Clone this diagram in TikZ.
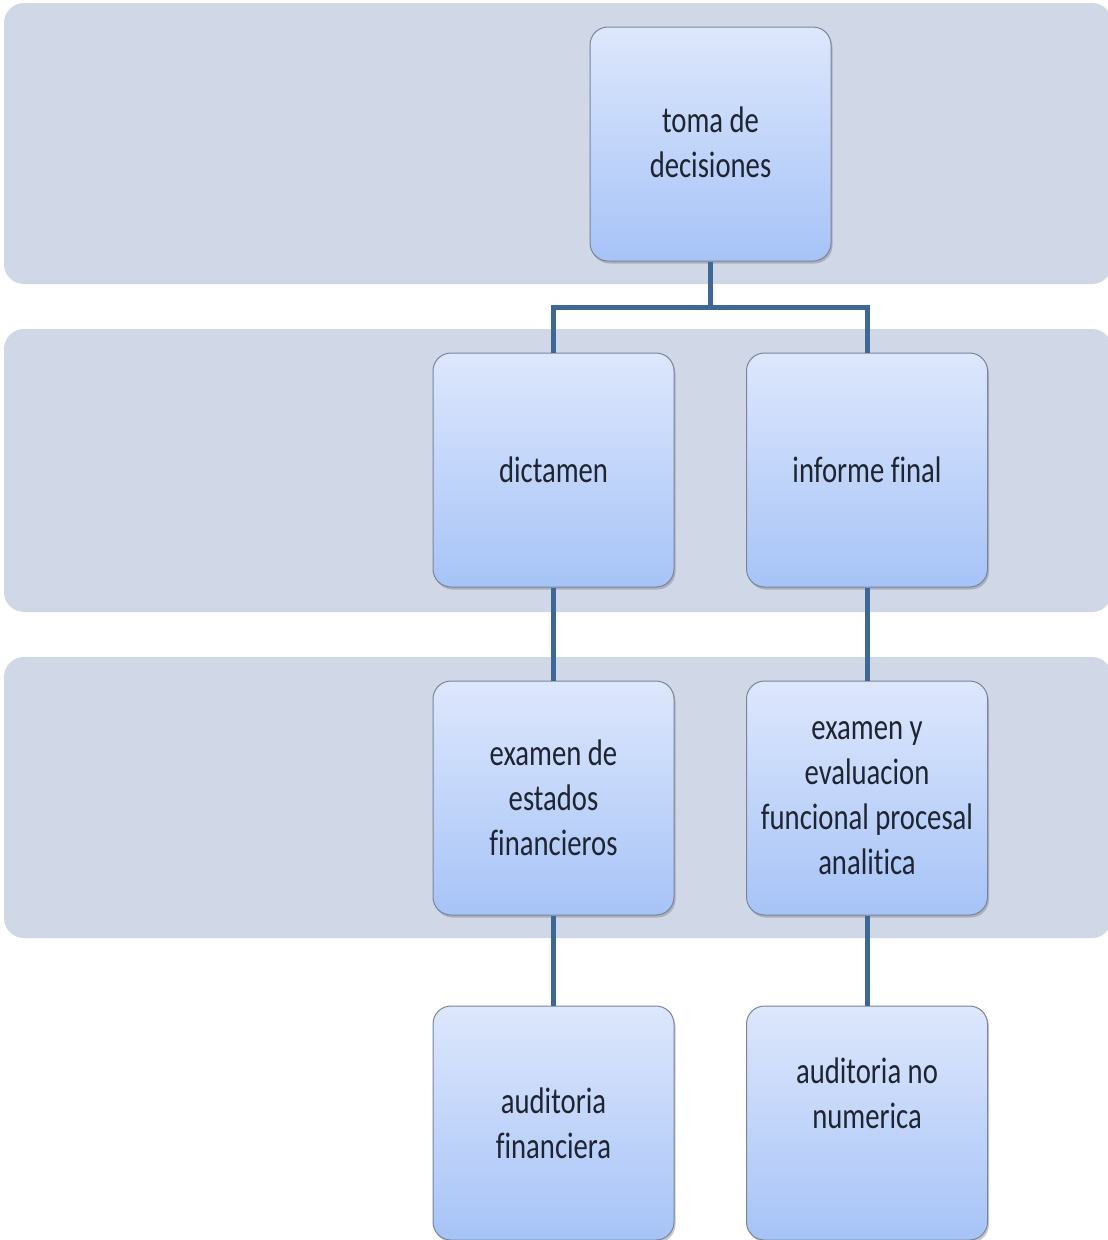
\documentclass[tikz,border=0pt]{standalone}
\usepackage{fontspec}
\setmainfont{Carlito}[FakeStretch=0.775, Ligatures=NoCommon]
\usetikzlibrary{shadows}
\definecolor{band}{HTML}{D0D8E8}
\definecolor{boxtop}{HTML}{DDE7FC}
\definecolor{boxbot}{HTML}{A6C3F7}
\definecolor{boxline}{HTML}{7A8599}
\definecolor{conncol}{HTML}{3E6796}
\definecolor{txtcol}{HTML}{1E2430}
\tikzset{
  bandrect/.style={fill=band, draw=none, rounded corners=20pt},
  boxnode/.style={draw=boxline, line width=1pt, rounded corners=18pt,
    top color=boxtop, bottom color=boxbot,
    minimum width=241pt, minimum height=234pt, inner sep=0pt,
    align=center, text=txtcol,
    font=\fontsize{37pt}{45pt}\selectfont,
    drop shadow={shadow xshift=1.5pt, shadow yshift=-2.5pt, opacity=0.35, fill=black!60}},
  txtnode/.style={align=center, text=txtcol, inner sep=0pt,
    font=\fontsize{37pt}{45pt}\selectfont},
  conn/.style={draw=conncol, line width=5pt, line join=miter}
}
\begin{document}
\begin{tikzpicture}[x=1pt, y=-1pt]
\useasboundingbox (0,0) rectangle (1108,1240);
\fill[white] (0,0) rectangle (1108,1240);
% bands
\path[bandrect] (4,3) rectangle (1112,284);
\path[bandrect] (4,329) rectangle (1112,612);
\path[bandrect] (4,657) rectangle (1112,938);
% boxes
\node[boxnode] (top) at (710.5,144) {};
\node[txtnode] (topt) at (710.5,142) {toma de\\decisiones};
\node[boxnode] (dict) at (553.5,470) {dictamen};
\node[boxnode] (inf) at (867,470) {informe final};
\node[boxnode] (exf) at (553.5,798) {examen de\\estados\\financieros};
\node[boxnode] (exe) at (867,798) {examen y\\evaluacion\\funcional procesal\\analitica};
\node[boxnode] (aud) at (553.5,1123) {auditoria\\financiera};
\node[boxnode] (aun) at (867,1123) {};
\node[txtnode] (aunt) at (867,1093) {auditoria no\\numerica};
% connectors
\coordinate (j) at (710.5,307);
\draw[conn] (top.south) -- (j);
\draw[conn] (dict.north) |- (j) -| (inf.north);
\draw[conn] (dict.south) -- (exf.north);
\draw[conn] (inf.south) -- (exe.north);
\draw[conn] (exf.south) -- (aud.north);
\draw[conn] (exe.south) -- (aun.north);
\end{tikzpicture}
\end{document}
